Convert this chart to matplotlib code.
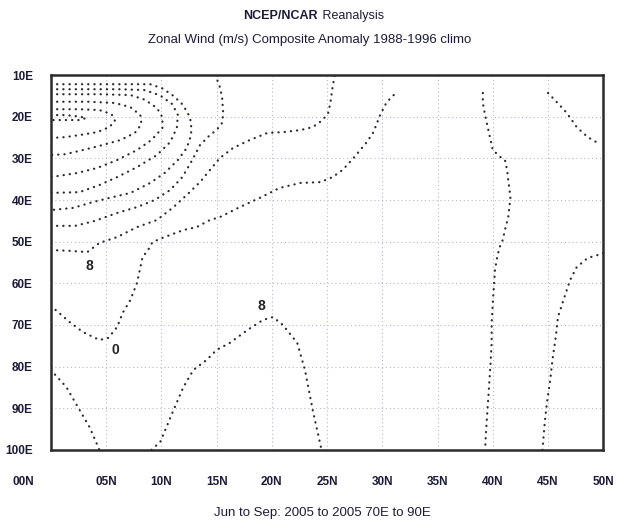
import matplotlib.pyplot as plt
from matplotlib.transforms import ScaledTranslation

plt.rcParams['font.family'] = ['Liberation Sans', 'DejaVu Sans']

# ticks
x_ticks = [0, 5, 10, 15, 20, 25, 30, 35, 40, 45, 50]
x_labels = ['00N', '05N', '10N', '15N', '20N', '25N', '30N', '35N', '40N', '45N', '50N']
y_ticks = [10, 20, 30, 40, 50, 60, 70, 80, 90, 100]
y_labels = ['10E', '20E', '30E', '40E', '50E', '60E', '70E', '80E', '90E', '100E']

# contour lines (x = latitude N, y = longitude E)
loop_a_x = [0, 1.3, 2.4, 3.2, 2.6, 1.3, 0]
loop_a_y = [19.6, 19.6, 19.9, 20.3, 20.8, 20.8, 20.8]

loop_b_x = [0, 2.6, 4.4, 5.5, 5.8, 5.3, 4.2, 2.6, 1.3, 0]
loop_b_y = [18.2, 18.2, 18.4, 19.4, 21.0, 22.5, 23.7, 24.4, 24.9, 25.1]

loop_c_x = [0, 3.5, 5.8, 7.2, 8.1, 8.2, 7.6, 6.3, 4.4, 2.6, 1.3, 0]
loop_c_y = [16.4, 16.4, 16.7, 17.7, 19.6, 21.8, 23.9, 25.6, 27.0, 28.2, 29.0, 29.2]

loop_d_x = [0, 4.4, 7.2, 8.5, 9.6, 10.1, 10.1, 9.1, 7.8, 6.0, 4.2, 2.4, 0]
loop_d_y = [14.6, 14.6, 14.8, 15.9, 17.9, 20.1, 22.7, 25.6, 28.0, 30.4, 32.3, 33.5, 34.5]

loop_e_x = [0, 6.3, 8.5, 9.9, 11.0, 11.5, 11.4, 10.8, 9.6, 7.8, 6.0, 4.4, 2.6, 0]
loop_e_y = [13.4, 13.4, 13.6, 14.9, 17.0, 19.6, 22.7, 26.1, 29.2, 32.1, 34.5, 36.4, 38.1, 38.3]

loop_f_x = [0, 9.0, 10.1, 11.1, 11.9, 12.4, 12.7, 12.7, 12.3, 11.5, 10.3, 9.0, 7.2, 5.3, 3.8, 2.0, 0]
loop_f_y = [12.2, 12.2, 13.2, 15.0, 17.0, 19.1, 21.3, 24.4, 27.5, 30.4, 33.5, 35.9, 38.3, 39.5, 40.5, 41.9, 42.4]

arc_b_x = [0, 2.2, 4.0, 6.0, 7.8, 9.4, 10.8, 11.9, 12.8, 13.5, 14.4, 15.0, 15.5, 15.6, 15.5, 15.3, 14.9]
arc_b_y = [46.2, 46.2, 45.0, 43.1, 41.7, 40.0, 37.6, 34.5, 30.4, 26.8, 24.4, 23.2, 21.5, 19.1, 15.3, 12.9, 10.0]

arc_mid_x = [0, 1.7, 3.3, 4.4, 6.0, 7.8, 9.6, 11.1, 12.3, 13.5, 14.4, 15.3, 16.5, 18.0, 19.6,
             21.0, 22.6, 23.7, 24.6, 25.1, 25.3, 25.5, 25.7]
arc_mid_y = [52.0, 52.2, 52.5, 50.3, 48.9, 46.5, 44.8, 41.7, 38.8, 35.7, 32.8, 29.9, 27.5, 25.6, 23.9,
             23.7, 23.2, 22.5, 20.8, 19.1, 16.7, 12.9, 10.0]

zero_x = [0, 1.7, 2.9, 4.4, 5.2, 6.0, 6.5, 7.2, 7.8, 8.3, 8.8, 9.2, 10.1, 10.8, 12.0, 13.2, 14.4, 15.3,
          17.1, 18.9, 20.7, 22.6, 24.4, 25.5, 26.4, 27.4, 28.0, 28.6, 29.2, 29.8, 30.4, 31.3]
zero_y = [65.4, 69.3, 71.7, 73.6, 73.1, 70.5, 67.1, 64.0, 59.9, 53.7, 52.0, 50.1, 49.1, 48.4, 47.2, 46.5,
          44.8, 44.1, 41.7, 39.5, 37.1, 35.9, 35.7, 34.5, 32.8, 29.9, 28.0, 26.1, 23.7, 19.6, 16.5, 14.1]

hump_x = [9.1, 9.9, 11.0, 12.0, 12.9, 14.1, 15.0, 16.2, 17.8, 19.2, 20.1, 21.0, 22.3, 23.0, 23.7, 24.5]
hump_y = [100, 98.1, 91.1, 84.9, 80.8, 78.4, 76.0, 74.3, 71.2, 68.8, 68.1, 70.0, 74.3, 80.8, 90.4, 100]

corner_x = [0, 1.4, 2.6, 3.5, 4.4]
corner_y = [80.8, 84.9, 90.4, 94.5, 100]

n40_x = [39.1, 39.1, 39.3, 39.5, 39.8, 40.0, 40.7, 41.1, 41.3, 41.4, 41.6, 41.4, 41.1, 40.9, 40.6, 40.4,
         40.2, 40.1, 40.0, 39.9, 39.9, 39.8, 39.7, 39.6, 39.5, 39.4, 39.3]
n40_y = [14.3, 16.7, 19.6, 22.0, 25.6, 28.0, 29.7, 30.4, 32.8, 35.2, 39.3, 44.1, 47.2, 49.6, 51.5, 53.7,
         56.8, 60.9, 64.7, 69.5, 74.3, 79.1, 83.2, 87.3, 91.1, 95.2, 100]

ne_x = [45.0, 45.8, 46.7, 47.6, 48.6, 49.5]
ne_y = [14.3, 16.5, 19.1, 22.5, 24.9, 26.3]

n45_x = [50, 49.5, 48.6, 47.6, 47.0, 46.4, 45.9, 45.7, 45.4, 45.2, 44.9, 44.7, 44.5]
n45_y = [52.7, 53.2, 53.9, 56.1, 59.2, 64.0, 68.1, 72.9, 78.4, 83.2, 88.7, 93.5, 100]

label_x = [3.5, 5.8, 19.1]
label_y = [55.8, 76.0, 65.4]
label_text = ['8', '0', '8']

lines = [(loop_a_x, loop_a_y), (loop_b_x, loop_b_y), (loop_c_x, loop_c_y), (loop_d_x, loop_d_y),
         (loop_e_x, loop_e_y), (loop_f_x, loop_f_y), (arc_b_x, arc_b_y), (arc_mid_x, arc_mid_y),
         (zero_x, zero_y), (hump_x, hump_y), (corner_x, corner_y), (n40_x, n40_y),
         (ne_x, ne_y), (n45_x, n45_y)]

txt = '#1c1c38'

fig = plt.figure(figsize=(6.2, 5.25), dpi=100)
ax = fig.add_axes([0.082, 0.143, 0.891, 0.714])

for lx, ly in lines:
    ax.plot(lx, ly, color='#2a2a2a', lw=1.6, linestyle=(0, (0.1, 2.7)),
            dash_capstyle='round', solid_capstyle='round', zorder=3)

for xx, yy, s in zip(label_x, label_y, label_text):
    ax.text(xx, yy, s, ha='center', va='center', fontsize=10, fontweight='bold',
            color='#222222', zorder=4)

ax.set_xlim(0, 50)
ax.set_ylim(100, 10)
ax.set_xticks(x_ticks)
ax.set_xticklabels(x_labels)
ax.set_yticks(y_ticks)
ax.set_yticklabels(y_labels)
ax.tick_params(length=0, labelsize=8.5, colors=txt)
ax.tick_params(axis='x', pad=19)
ax.tick_params(axis='y', pad=13)
for lab in ax.get_xticklabels() + ax.get_yticklabels():
    lab.set_fontweight('bold')
first = ax.get_xticklabels()[0]
first.set_transform(first.get_transform() + ScaledTranslation(-0.28, 0, fig.dpi_scale_trans))

ax.grid(True, color='#b4b9cc', linestyle=(0, (1, 2.5)), lw=0.8)
for sp in ax.spines.values():
    sp.set_color('#2b2b2b')
    sp.set_linewidth(1.8)

fig.text(0.513, 0.97, 'NCEP/NCAR', ha='right', va='center', fontsize=9,
         fontweight='bold', color=txt)
fig.text(0.515, 0.97, ' Reanalysis', ha='left', va='center', fontsize=9, color=txt)
fig.text(0.5, 0.924, 'Zonal Wind (m/s) Composite Anomaly 1988-1996 climo',
         ha='center', va='center', fontsize=9.5, color=txt)
fig.text(0.52, 0.023, 'Jun to Sep: 2005 to 2005 70E to 90E', ha='center', va='center',
         fontsize=9.5, color=txt)

fig.savefig('out.png', dpi=100)
